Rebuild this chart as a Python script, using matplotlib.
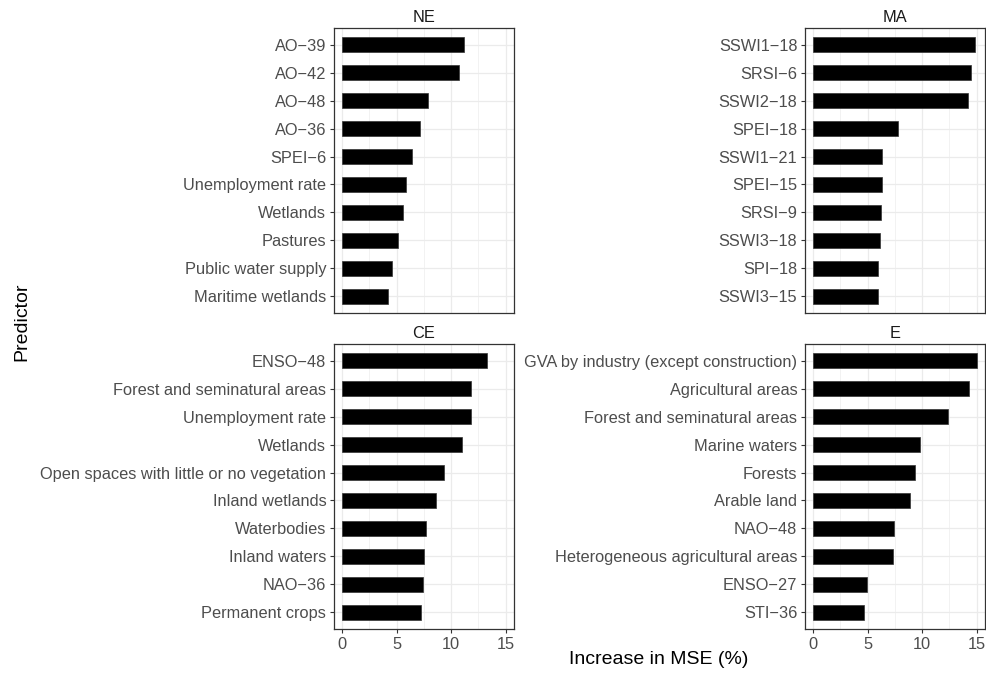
import matplotlib
matplotlib.use("Agg")
import matplotlib.pyplot as plt
from matplotlib.ticker import MultipleLocator

plt.rcParams['font.family'] = ['Liberation Sans', 'DejaVu Sans']

# predictors per region, listed from top to bottom
ne_labels = ["AO\u221239", "AO\u221242", "AO\u221248", "AO\u221236", "SPEI\u22126",
             "Unemployment rate", "Wetlands", "Pastures", "Public water supply",
             "Maritime wetlands"]
ne_values = [11.15, 10.75, 7.9, 7.1, 6.4, 5.9, 5.55, 5.1, 4.55, 4.2]

ma_labels = ["SSWI1\u221218", "SRSI\u22126", "SSWI2\u221218", "SPEI\u221218", "SSWI1\u221221",
             "SPEI\u221215", "SRSI\u22129", "SSWI3\u221218", "SPI\u221218", "SSWI3\u221215"]
ma_values = [14.85, 14.45, 14.2, 7.8, 6.32, 6.3, 6.25, 6.12, 5.98, 5.95]

ce_labels = ["ENSO\u221248", "Forest and seminatural areas", "Unemployment rate", "Wetlands",
             "Open spaces with little or no vegetation", "Inland wetlands", "Waterbodies",
             "Inland waters", "NAO\u221236", "Permanent crops"]
ce_values = [13.3, 11.85, 11.82, 11.0, 9.33, 8.57, 7.68, 7.47, 7.44, 7.2]

e_labels = ["GVA by industry (except construction)", "Agricultural areas",
            "Forest and seminatural areas", "Marine waters", "Forests", "Arable land",
            "NAO\u221248", "Heterogeneous agricultural areas", "ENSO\u221227", "STI\u221236"]
e_values = [15.02, 14.28, 12.37, 9.85, 9.38, 8.88, 7.42, 7.36, 4.95, 4.62]

panels = [
    ("NE", ne_labels, ne_values),
    ("MA", ma_labels, ma_values),
    ("CE", ce_labels, ce_values),
    ("E", e_labels, e_values),
]

W, H = 986, 673
fig = plt.figure(figsize=(W / 100, H / 100), dpi=100)

# panel boxes in pixels: left, top, right, bottom
boxes = [(334, 28, 514, 313), (805, 28, 985, 313),
         (334, 344, 514, 629), (805, 344, 985, 629)]

xmax = max(max(ne_values), max(ma_values), max(ce_values), max(e_values))
xlo, xhi = -0.05 * xmax, 1.05 * xmax

for i, ((title, labels, values), (l, t, r, b)) in enumerate(zip(panels, boxes)):
    ax = fig.add_axes([l / W, 1 - b / H, (r - l) / W, (b - t) / H])
    n = len(labels)
    ax.barh(labels[::-1], values[::-1], height=0.55, color="black",
            edgecolor="#333333", linewidth=0.5, zorder=3)
    ax.set_ylim(-0.6, n - 0.4)
    ax.set_xlim(xlo, xhi)
    ax.xaxis.set_major_locator(MultipleLocator(5))
    ax.xaxis.set_minor_locator(MultipleLocator(2.5))
    ax.grid(which="major", color="#EBEBEB", linewidth=0.9, zorder=0)
    ax.grid(which="minor", axis="x", color="#EBEBEB", linewidth=0.45, zorder=0)
    ax.set_axisbelow(True)
    for sp in ax.spines.values():
        sp.set_color("#333333")
        sp.set_linewidth(0.9)
    ax.tick_params(axis="both", which="major", length=3, width=0.8, color="#333333",
                   labelcolor="#4D4D4D", labelsize=11.8, pad=2.5)
    ax.tick_params(axis="x", which="minor", length=0)
    if i < 2:
        ax.tick_params(axis="x", which="major", length=0, labelbottom=False)
    ax.set_title(title, fontsize=11.8, color="#1A1A1A", pad=4)

fig.text(659 / W, 1 - 660 / H, "Increase in MSE (%)", ha="center", va="center",
         fontsize=14, color="black")
fig.text(22 / W, 1 - 322 / H, "Predictor", ha="center", va="center",
         rotation=90, fontsize=14, color="black")

fig.savefig("out.png", dpi=100, facecolor="white")
